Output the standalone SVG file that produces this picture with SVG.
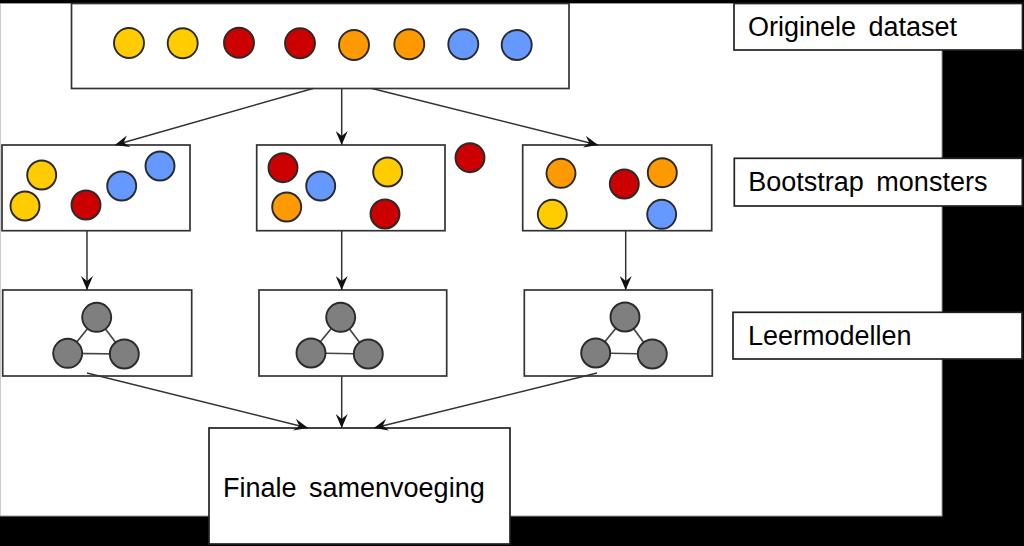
<svg xmlns="http://www.w3.org/2000/svg" width="1024" height="546" viewBox="0 0 1024 546">
<style>
.box{fill:#fff;stroke:#333;stroke-width:1.7}
.lbl{fill:#fff;stroke:#222;stroke-width:1.7}
.t{font-family:"Liberation Sans",Arial,sans-serif;font-size:27px;fill:#000;word-spacing:5px}
.c{stroke:#2a2a2a;stroke-width:1.9}
.y{fill:#FFCC00}.r{fill:#CC0000}.o{fill:#FF9900}.b{fill:#6699FF}.g{fill:#7f7f7f}
.e{stroke:#444;stroke-width:1.7}
.a{stroke:#333;stroke-width:1.5;fill:none;marker-end:url(#ah)}
</style>
<defs>
<marker id="ah" viewBox="0 0 14 12" refX="14" refY="6" markerWidth="14" markerHeight="12" markerUnits="userSpaceOnUse" orient="auto">
<path d="M0,0 L14,6 L0,12 L5,6 z" fill="#111"/>
</marker>
</defs>
<rect x="0" y="0" width="1024" height="546" fill="#000"/>
<rect x="0" y="3.5" width="942" height="512.5" fill="#fff" stroke="#999" stroke-width="1"/>

<g id="dataset">
<rect class="box" x="71.5" y="3.5" width="497.5" height="85"/>
<circle class="c y" cx="129" cy="43" r="15"/>
<circle class="c y" cx="182.7" cy="43.3" r="15"/>
<circle class="c r" cx="239" cy="42.7" r="15"/>
<circle class="c r" cx="300" cy="43.3" r="15"/>
<circle class="c o" cx="354" cy="45" r="15"/>
<circle class="c o" cx="409.3" cy="44.3" r="15"/>
<circle class="c b" cx="463.3" cy="44.3" r="15"/>
<circle class="c b" cx="516.7" cy="45" r="15"/>
</g>

<g id="label-originele">
<rect class="lbl" x="734" y="3.5" width="288.5" height="46.5"/>
<text class="t" x="748" y="36">Originele dataset</text>
</g>

<g id="sample1">
<rect class="box" x="2" y="145" width="188" height="85.7"/>
<circle class="c y" cx="41.7" cy="175" r="14.5"/>
<circle class="c y" cx="25" cy="206" r="14.5"/>
<circle class="c r" cx="86" cy="205" r="14.5"/>
<circle class="c b" cx="121.7" cy="186" r="14.5"/>
<circle class="c b" cx="160" cy="166" r="14.5"/>
</g>

<g id="sample2">
<rect class="box" x="256.7" y="145" width="188.3" height="85.7"/>
<circle class="c r" cx="283" cy="167.7" r="14.5"/>
<circle class="c b" cx="320.7" cy="186" r="14.5"/>
<circle class="c o" cx="286.7" cy="207" r="14.5"/>
<circle class="c y" cx="387.7" cy="172" r="14.5"/>
<circle class="c r" cx="385" cy="214" r="14.5"/>
</g>

<g id="extra-red">
<circle class="c r" cx="470" cy="157.7" r="14.5"/>
</g>

<g id="sample3">
<rect class="box" x="522.7" y="145" width="189" height="85.7"/>
<circle class="c o" cx="561" cy="173.3" r="14.5"/>
<circle class="c r" cx="624.3" cy="184" r="14.5"/>
<circle class="c o" cx="662.3" cy="172.7" r="14.5"/>
<circle class="c y" cx="552.3" cy="214.3" r="14.5"/>
<circle class="c b" cx="661.7" cy="214.3" r="14.5"/>
</g>

<g id="label-bootstrap">
<rect class="lbl" x="734.3" y="158.3" width="288" height="47.7"/>
<text class="t" x="748.3" y="190.7">Bootstrap monsters</text>
</g>

<g id="model1">
<rect class="box" x="2.7" y="290" width="189" height="86"/>
<line class="e" x1="96.7" y1="317.3" x2="67.7" y2="353.3"/>
<line class="e" x1="96.7" y1="317.3" x2="124.3" y2="354"/>
<line class="e" x1="67.7" y1="353.3" x2="124.3" y2="354"/>
<circle class="c g" cx="96.7" cy="317.3" r="14.5"/>
<circle class="c g" cx="67.7" cy="353.3" r="14.5"/>
<circle class="c g" cx="124.3" cy="354" r="14.5"/>
</g>

<g id="model2">
<rect class="box" x="259" y="290" width="187.7" height="86"/>
<line class="e" x1="340.7" y1="317.3" x2="311" y2="353"/>
<line class="e" x1="340.7" y1="317.3" x2="368.3" y2="354"/>
<line class="e" x1="311" y1="353" x2="368.3" y2="354"/>
<circle class="c g" cx="340.7" cy="317.3" r="14.5"/>
<circle class="c g" cx="311" cy="353" r="14.5"/>
<circle class="c g" cx="368.3" cy="354" r="14.5"/>
</g>

<g id="model3">
<rect class="box" x="524.3" y="290" width="188" height="86"/>
<line class="e" x1="625" y1="317" x2="595.7" y2="353"/>
<line class="e" x1="625" y1="317" x2="652.3" y2="354"/>
<line class="e" x1="595.7" y1="353" x2="652.3" y2="354"/>
<circle class="c g" cx="625" cy="317" r="14.5"/>
<circle class="c g" cx="595.7" cy="353" r="14.5"/>
<circle class="c g" cx="652.3" cy="354" r="14.5"/>
</g>

<g id="label-leermodellen">
<rect class="lbl" x="733" y="312.3" width="289" height="46.7"/>
<text class="t" x="748" y="345">Leermodellen</text>
</g>

<g id="final">
<rect class="lbl" x="209" y="428" width="301" height="116"/>
<text class="t" x="223" y="497">Finale samenvoeging</text>
</g>

<g id="connectors">
<line class="a" x1="313" y1="88.5" x2="115" y2="145"/>
<line class="a" x1="341.7" y1="88.5" x2="341.7" y2="145"/>
<line class="a" x1="372" y1="88.5" x2="598" y2="145"/>
<line class="a" x1="87" y1="231" x2="87" y2="290"/>
<line class="a" x1="341.7" y1="231" x2="341.7" y2="290"/>
<line class="a" x1="625.7" y1="231" x2="625.7" y2="290"/>
<line class="a" x1="87" y1="373" x2="308" y2="428"/>
<line class="a" x1="341.7" y1="376" x2="341.7" y2="428"/>
<line class="a" x1="597" y1="373" x2="374" y2="428"/>
</g>
</svg>
